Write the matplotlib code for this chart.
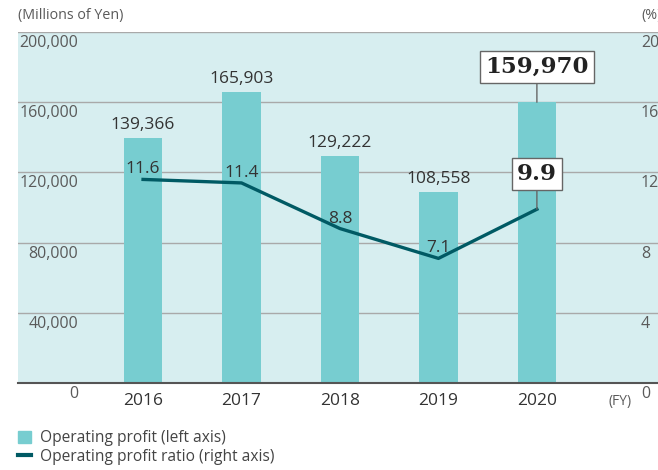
import matplotlib
matplotlib.use("Agg")
import matplotlib.pyplot as plt
import matplotlib.transforms as mtrans
from matplotlib.patches import Patch
from matplotlib.lines import Line2D

plt.rcParams["font.family"] = ["Open Sans", "DejaVu Sans"]

years = ["2016", "2017", "2018", "2019", "2020"]
profit = [139366, 165903, 129222, 108558, 159970]
ratio = [11.6, 11.4, 8.8, 7.1, 9.9]
left_ticks = [0, 40000, 80000, 120000, 160000, 200000]
right_ticks = [0, 4, 8, 12, 16, 20]

BAR, LINE, BG = "#77cdd0", "#005a64", "#d7eef0"
TXT, GRID, LBL = "#333333", "#a9a9a9", "#5a5a5a"

fig = plt.figure(figsize=(6.58, 4.70), dpi=100)
ax = fig.add_axes([18/658, 1-383/470, 1-18/658, 351/470])
ax.set_facecolor(BG)
x = list(range(len(years)))
ax.bar(x, profit, width=0.39, color=BAR, zorder=2)
ax.set_ylim(0, 200000)
ax.set_xlim(-1.27, 5.23)
ax.set_yticks(left_ticks)
ax.yaxis.grid(True, color=GRID, lw=1, zorder=1)
ax.tick_params(axis="y", length=0, labelleft=False)
ax.set_xticks(x)
ax.set_xticklabels(years, fontsize=12.5, color=TXT)
ax.tick_params(axis="x", length=0, pad=7)
for s in ["left", "right", "top"]:
    ax.spines[s].set_visible(False)
ax.spines["bottom"].set_color("#555555")
ax.spines["bottom"].set_linewidth(1.5)
ax.spines["bottom"].set_zorder(5)

# left axis labels inside the plot, under each gridline
off = mtrans.ScaledTranslation(0, -3/100, fig.dpi_scale_trans)
btr = mtrans.blended_transform_factory(ax.transAxes, ax.transData)
for t in left_ticks:
    ax.text((78-18)/640, t, f"{t:,}", transform=btr + off, ha="right", va="top",
            fontsize=11.5, color=LBL)

ax2 = ax.twinx()
ax2.set_ylim(0, 20)
ax2.set_yticks([])
for s in ax2.spines.values():
    s.set_visible(False)
ax2.plot(x, ratio, color=LINE, lw=2.4, zorder=4, solid_joinstyle="round")
rtr = mtrans.blended_transform_factory(fig.transFigure, ax2.transData)
for t in right_ticks:
    ax2.text(641/658, t, str(t), transform=rtr + off, ha="left", va="top",
             fontsize=11.5, color=LBL)

# value labels
for i in range(len(years) - 1):
    ax.annotate(f"{profit[i]:,}", (x[i], profit[i]), xytext=(0, 5), textcoords="offset pixels",
                ha="center", va="bottom", fontsize=12.5, color=TXT, zorder=6)
    ax2.annotate(f"{ratio[i]}", (x[i], ratio[i]), xytext=(0, 2), textcoords="offset pixels",
                 ha="center", va="bottom", fontsize=12.5, color=TXT, zorder=6)

box = dict(boxstyle="square,pad=0.22", fc="white", ec="#666666", lw=1)
arr = dict(arrowstyle="-", color="#666666", lw=1, shrinkA=0, shrinkB=0)
ax2.annotate(f"{profit[-1]:,}", (x[-1], profit[-1] / 10000), xytext=(0, 35),
             textcoords="offset pixels", ha="center", va="center", fontsize=16.5,
             fontweight="bold", family="DejaVu Serif", color="#222222",
             bbox=box, arrowprops=arr, zorder=7)
ax2.annotate(f"{ratio[-1]}", (x[-1], ratio[-1]), xytext=(0, 35),
             textcoords="offset pixels", ha="center", va="center", fontsize=16.5,
             fontweight="bold", family="DejaVu Serif", color="#222222",
             bbox=box, arrowprops=arr, zorder=7)

fig.text(18/658, 1-15/470, "(Millions of Yen)", fontsize=10.3, color=LBL, va="center")
fig.text(641/658, 1-15/470, "(%)", fontsize=10.3, color=LBL, va="center")
fig.text(620/658, 1-401/470, "(FY)", fontsize=10, color=LBL, ha="center", va="center")

handles = [Patch(color=BAR, label="Operating profit (left axis)"),
           Line2D([], [], color=LINE, lw=3, label="Operating profit ratio (right axis)")]
fig.legend(handles=handles, loc="upper left", bbox_to_anchor=(12/658, 1-424/470),
           frameon=False, fontsize=11.2, handlelength=0.8, handleheight=0.8,
           handletextpad=0.6, labelspacing=0.15, labelcolor="#444444", borderaxespad=0)

fig.savefig("out.png", dpi=100)
